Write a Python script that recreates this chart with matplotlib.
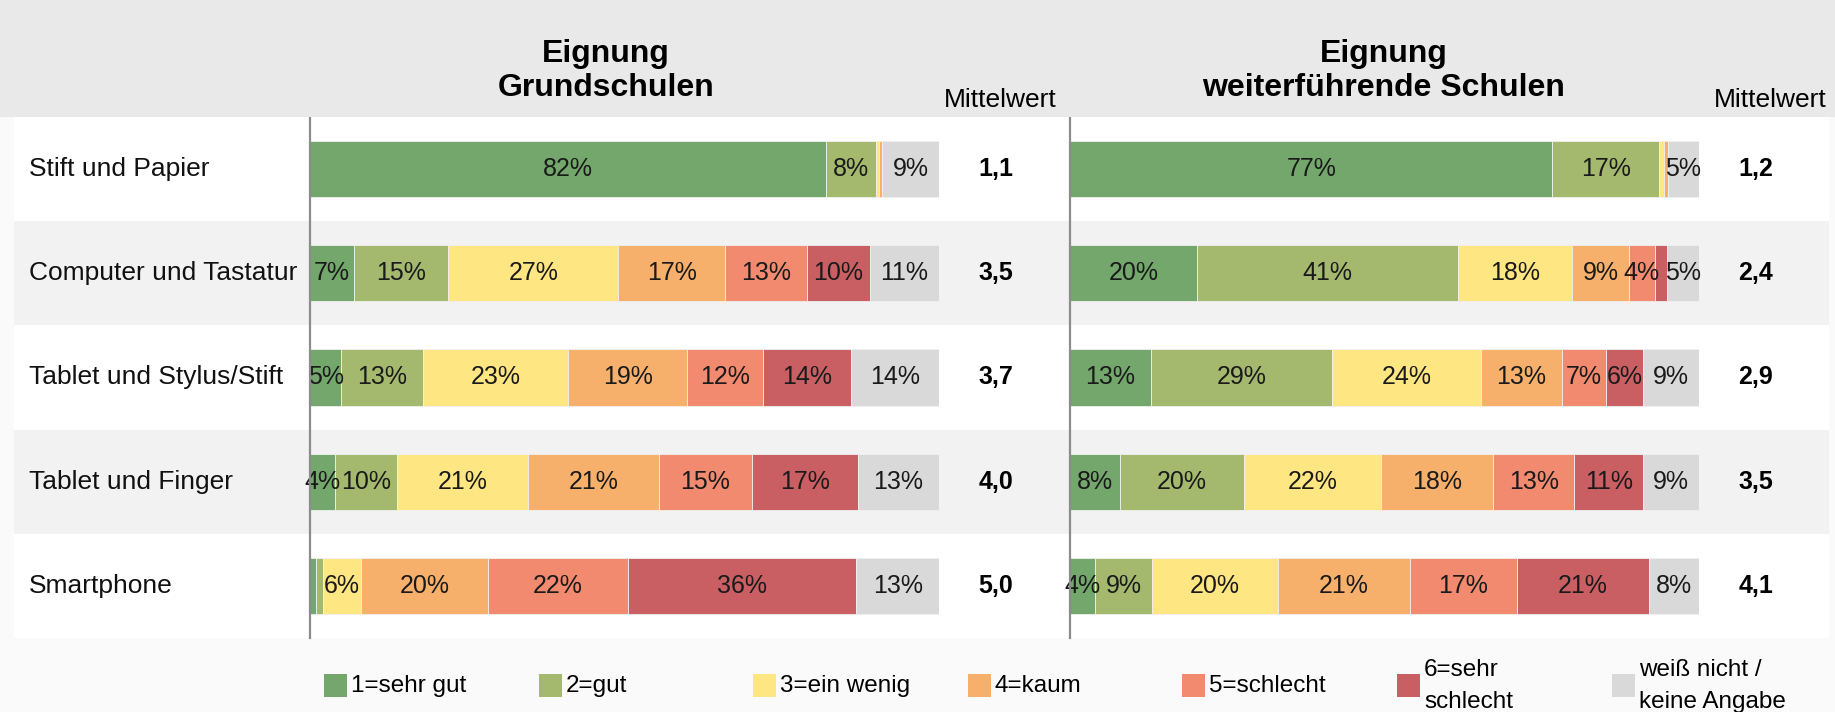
import numpy as np
import matplotlib.pyplot as plt
from matplotlib.patches import Rectangle

plt.rcParams['font.family'] = ['Liberation Sans', 'DejaVu Sans']

categories = ['Stift und Papier', 'Computer und Tastatur', 'Tablet und Stylus/Stift',
              'Tablet und Finger', 'Smartphone']
levels = ['1=sehr gut', '2=gut', '3=ein wenig', '4=kaum', '5=schlecht',
          '6=sehr\nschlecht', 'weiß nicht /\nkeine Angabe']
colors = ['#73a76b', '#a5b96e', '#fee682', '#f7b06c', '#f28a6f', '#c95f63', '#d9d9d9']

# shares in % per category (columns: 1..6, weiß nicht)
grund = np.array([
    [82, 8, 0.5, 0.4, 0.1, 0, 9],
    [7, 15, 27, 17, 13, 10, 11],
    [5, 13, 23, 19, 12, 14, 14],
    [4, 10, 21, 21, 15, 17, 13],
    [1, 1, 6, 20, 22, 36, 13],
])
weiter = np.array([
    [77, 17, 0.8, 0.6, 0, 0, 5],
    [20, 41, 18, 9, 4, 2, 5],
    [13, 29, 24, 13, 7, 6, 9],
    [8, 20, 22, 18, 13, 11, 9],
    [4, 9, 20, 21, 17, 21, 8],
])
mittel_grund = ['1,1', '3,5', '3,7', '4,0', '5,0']
mittel_weiter = ['1,2', '2,4', '2,9', '3,5', '4,1']
titles = ['Eignung\nGrundschulen', 'Eignung\nweiterführende Schulen']

W, H = 1835, 712
fig = plt.figure(figsize=(W / 100, H / 100), dpi=100)
fig.patch.set_facecolor('#fafafa')

# top gray strip
fig.patches.append(Rectangle((0, 1 - 117 / H), 1, 117 / H, transform=fig.transFigure,
                             facecolor='#e9e9e9', edgecolor='none', zorder=0))

y0 = (H - 638) / H
hh = 521 / H

# row bands
bg = fig.add_axes([14 / W, y0, (1829 - 14) / W, hh])
bg.set_xlim(0, 1)
bg.set_ylim(len(categories) - 0.5, -0.5)
for i, cat in enumerate(categories):
    bg.axhspan(i - 0.5, i + 0.5, color='white' if i % 2 == 0 else '#f2f2f2', lw=0)
    bg.text(15 / (1829 - 14), i, cat, va='center', ha='left', fontsize=19, color='#111111')
bg.axis('off')

panels = [(310, grund, mittel_grund, titles[0], 606, 1000),
          (1070, weiter, mittel_weiter, titles[1], 1384, 1770)]

for k, (x_left, data, mittel, title, tx, mx) in enumerate(panels):
    ax = fig.add_axes([x_left / W, y0, 629 / W, hh])
    ax.set_xlim(0, 100)
    ax.set_ylim(len(categories) - 0.5, -0.5)
    ax.patch.set_alpha(0)
    ypos = np.arange(len(categories))
    # bars are scaled so that every row fills 100 %
    scaled = data / data.sum(axis=1, keepdims=True) * 100
    left = np.zeros(len(categories))
    for j in range(data.shape[1]):
        vals = scaled[:, j]
        ax.barh(ypos, vals, left=left, height=0.54, color=colors[j],
                edgecolor='#f0f0f0', linewidth=0.6)
        for i, v in enumerate(data[:, j]):
            if v >= 3:
                ax.text(left[i] + vals[i] / 2, i, f'{v:.0f}%', ha='center', va='center',
                        fontsize=18, color='#1a1a1a')
        left = left + vals
    for i, m in enumerate(mittel):
        ax.text(109, i, m, ha='center', va='center', fontsize=18, fontweight='bold',
                clip_on=False)
    ymax = 1.0 if k == 0 else 1 + (117 - 6) / 521
    ax.axvline(0, ymin=0, ymax=ymax, color='#8c8c8c', lw=1.6, clip_on=False, zorder=5)
    for s in ax.spines.values():
        s.set_visible(False)
    ax.set_xticks([])
    ax.set_yticks([])
    fig.text(tx / W, 1 - 71 / H, title, ha='center', va='center', fontsize=23,
             fontweight='bold', linespacing=1.2)
    fig.text(mx / W, 1 - 100 / H, 'Mittelwert', ha='center', va='center', fontsize=19)

# legend
lg = fig.add_axes([324 / W, 0, 7 * 214.6 / W, 1])
lg.set_xlim(0, 7)
lg.set_ylim(H, 0)
lg.axis('off')
for i, (lab, c) in enumerate(zip(levels, colors)):
    lg.add_patch(Rectangle((i, 673.5), 23 / 214.6, 23, facecolor=c, edgecolor='none'))
    lg.text(i + 27 / 214.6, 686, lab, ha='left', va='center', fontsize=17.5,
            linespacing=1.6)

fig.savefig('out.png', dpi=100, facecolor=fig.get_facecolor())
